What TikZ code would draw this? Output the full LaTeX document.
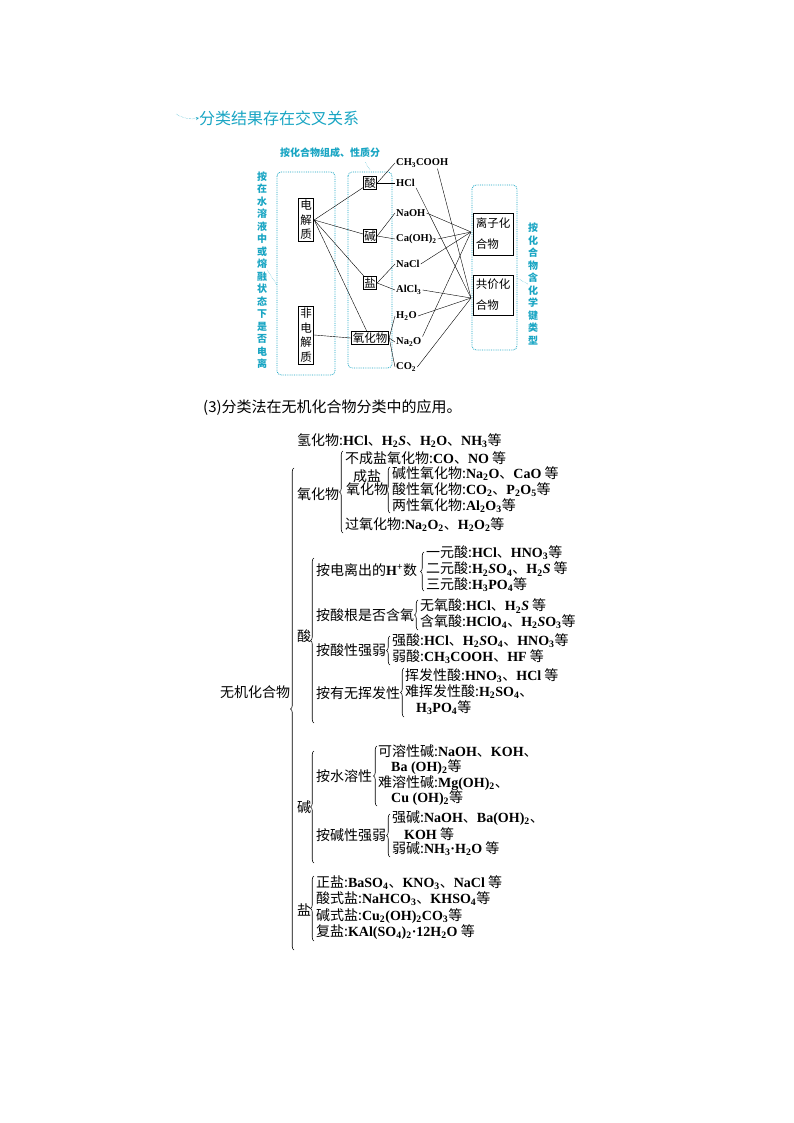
\documentclass[tikz,border=0pt]{standalone}
\usepackage{fontspec}
\setmainfont{Liberation Serif}
\newfontfamily\cjk{Noto Sans CJK SC}
\newfontfamily\lsb{Liberation Serif}[BoldFont={Liberation Serif Bold}]
\usetikzlibrary{decorations.pathreplacing}
\definecolor{tc}{RGB}{25,165,195}
\newcommand{\F}[1]{{\lsb\bfseries #1}}
\newcommand{\su}[1]{\textsubscript{#1}}
\begin{document}
\begin{tikzpicture}[x=1pt,y=-1pt,
  t/.style={anchor=west,inner sep=0pt,font=\cjk\fontsize{14}{15}\selectfont},
  c/.style={anchor=west,inner sep=1pt,font=\lsb\bfseries\fontsize{10.5}{12}\selectfont},
  bx/.style={draw,thick,inner sep=2pt,font=\cjk\fontsize{11.5}{13}\selectfont},
  dbox/.style={draw=tc,densely dotted,rounded corners=4pt,thick},
  tl/.style={inner sep=0pt,text=tc,font=\cjk\bfseries\fontsize{10}{12.5}\selectfont,align=center},
  br/.style={decorate,decoration={brace,amplitude=3.5pt},semithick},
  ln/.style={thin}]
\useasboundingbox (0,0) rectangle (794,1123);
% title
\node[t,text=tc,font=\cjk\fontsize{16}{17}\selectfont] (title) at (199,118) {分类结果存在交叉关系};
\coordinate (ta) at (176,114);
\draw[tc,densely dotted,->,>=stealth] (ta) to[bend right=20] (title.west);
\node[tl] (tlab) at (330,153) {按化合物组成、性质分};
\coordinate (tla) at (370,170);
\draw[tc,densely dotted] (tla) -- ++(-5,-8);
% dotted boxes
\draw[dbox] (277,172) rectangle (335,375);
\draw[dbox] (348,172) rectangle (392,368);
\draw[dbox] (472,185) rectangle (517,350);
\node[tl] (lv) at (262,270) {按\\在\\水\\溶\\液\\中\\或\\熔\\融\\状\\态\\下\\是\\否\\电\\离};
\node[tl] (rv) at (533,284) {按\\化\\合\\物\\含\\化\\学\\键\\类\\型};
\draw[tc,densely dotted] (lv.east) -- (277,285);
\draw[tc,densely dotted] (rv.west) -- (517,278);
% nodes
\node[bx,align=center,font=\cjk\fontsize{11.5}{14.5}\selectfont] (dj) at (306,220) {电\\解\\质};
\node[bx,align=center,font=\cjk\fontsize{11.5}{14.5}\selectfont] (fdj) at (306,335) {非\\电\\解\\质};
\node[bx,inner sep=1pt] (suan) at (370,183) {酸};
\node[bx,inner sep=1pt] (jian) at (370,236) {碱};
\node[bx,inner sep=1pt] (yan) at (370,283) {盐};
\node[bx,inner sep=1.5pt] (yhw) at (370,338) {氧化物};
\node[c] (ch) at (395,163) {CH\su{3}COOH};
\node[c] (hcl) at (395,183) {HCl};
\node[c] (naoh) at (395,213) {NaOH};
\node[c] (caoh) at (395,239) {Ca(OH)\su{2}};
\node[c] (nacl) at (395,264) {NaCl};
\node[c] (alcl) at (395,290) {AlCl\su{3}};
\node[c] (h2o) at (395,316) {H\su{2}O};
\node[c] (na2o) at (395,342) {Na\su{2}O};
\node[c] (co2) at (395,367) {CO\su{2}};
\node[bx,align=left,font=\cjk\fontsize{11.5}{21}\selectfont,minimum width=40pt,minimum height=42pt] (lz) at (493,234) {离子化\\合物};
\node[bx,align=left,font=\cjk\fontsize{11.5}{21}\selectfont,minimum width=40pt,minimum height=40pt] (gj) at (493,295) {共价化\\合物};
\coordinate (lzp) at (471,232);
\coordinate (gjp) at (471,298);
\foreach \n in {suan,jian,yan,yhw} \draw[ln] (dj.east) -- (\n);
\draw[ln] (fdj.east) -- (yhw.west);
\draw[ln] (suan.east) -- (ch.west); \draw[ln] (suan.east) -- (hcl.west);
\draw[ln] (jian.east) -- (naoh.west); \draw[ln] (jian.east) -- (caoh.west);
\draw[ln] (yan.east) -- (nacl.west); \draw[ln] (yan.east) -- (alcl.west);
\draw[ln] (yhw.east) -- (h2o.west); \draw[ln] (yhw.east) -- (na2o.west); \draw[ln] (yhw.east) -- (co2.west);
\draw[ln] (naoh.east) -- (lzp); \draw[ln] (caoh.east) -- (lzp); \draw[ln] (nacl.east) -- (lzp); \draw[ln] (na2o.north east) -- (lzp);
\draw[ln] (ch.south east) ++(-12,0) -- (gjp); \draw[ln] (hcl.south east) -- (gjp); \draw[ln] (alcl.east) -- (gjp); \draw[ln] (h2o.east) -- (gjp); \draw[ln] (co2.east) -- (gjp);
% section
\node[t,font=\cjk\fontsize{15}{16}\selectfont] (sec) at (203,408) {(3)分类法在无机化合物分类中的应用。};
% tree
\node[t] (wj) at (220,692) {无机化合物};
\draw[br] (294,950) -- (294,468);
\node[t] (qh) at (297,441) {氢化物:\F{HCl}、\F{H\su{2}\textit{S}}、\F{H\su{2}O}、\F{NH\su{3}}等};
\node[t] (yh) at (297,494) {氧化物};
\draw[br] (343,533) -- (343,451);
\node[t] (bc) at (345,458) {不成盐氧化物:\F{CO}、\F{NO} 等};
\node[t,align=center,font=\cjk\fontsize{14}{13}\selectfont,anchor=center] (cy) at (367,483) {成盐\\氧化物};
\draw[br] (390,513) -- (390,467);
\node[t] (j1) at (392,474) {碱性氧化物:\F{Na\su{2}O}、\F{CaO} 等};
\node[t] (j2) at (392,490) {酸性氧化物:\F{CO\su{2}}、\F{P\su{2}O\su{5}}等};
\node[t] (j3) at (392,506) {两性氧化物:\F{Al\su{2}O\su{3}}等};
\node[t] (gy) at (345,525) {过氧化物:\F{Na\su{2}O\su{2}}、\F{H\su{2}O\su{2}}等};
% acid
\node[t] (sa) at (297,636) {酸};
\draw[br] (314,723) -- (314,558);
\node[t] (a1) at (316,570) {按电离出的\F{H}\textsuperscript{+}数};
\draw[br] (424,591) -- (424,552);
\node[t] (a11) at (426,553) {一元酸:\F{HCl}、\F{HNO\su{3}}等};
\node[t] (a12) at (426,569) {二元酸:\F{H\su{2}\textit{S}O\su{4}}、\F{H\su{2}\textit{S}} 等};
\node[t] (a13) at (426,585) {三元酸:\F{H\su{3}PO\su{4}}等};
\node[t] (a2) at (316,615) {按酸根是否含氧};
\draw[br] (418,630) -- (418,600);
\node[t] (a21) at (420,606) {无氧酸:\F{HCl}、\F{H\su{2}\textit{S}} 等};
\node[t] (a22) at (420,622) {含氧酸:\F{HClO\su{4}}、\F{H\su{2}\textit{S}O\su{3}}等};
\node[t] (a3) at (316,650) {按酸性强弱};
\draw[br] (390,665) -- (390,636);
\node[t] (a31) at (392,641) {强酸:\F{HCl}、\F{H\su{2}\textit{S}O\su{4}}、\F{HNO\su{3}}等};
\node[t] (a32) at (392,657) {弱酸:\F{CH\su{3}COOH}、\F{HF} 等};
\node[t] (a4) at (316,693) {按有无挥发性};
\draw[br] (404,717) -- (404,668);
\node[t] (a41) at (405,676) {挥发性酸:\F{HNO\su{3}}、\F{HCl} 等};
\node[t] (a42) at (405,692) {难挥发性酸:\F{H\su{2}SO\su{4}}、};
\node[t] (a43) at (416,708) {\F{H\su{3}PO\su{4}}等};
% base
\node[t] (jn) at (297,807) {碱};
\draw[br] (314,863) -- (314,751);
\node[t] (b1) at (316,776) {按水溶性};
\draw[br] (377,806) -- (377,746);
\node[t] (b11) at (378,751) {可溶性碱:\F{NaOH}、\F{KOH}、};
\node[t] (b12) at (391,767) {\F{Ba (OH)\su{2}}等};
\node[t] (b13) at (378,783) {难溶性碱:\F{Mg(OH)\su{2}}、};
\node[t] (b14) at (391,798) {\F{Cu (OH)\su{2}}等};
\node[t] (b2) at (316,835) {按碱性强弱};
\draw[br] (390,857) -- (390,814);
\node[t] (b21) at (392,818) {强碱:\F{NaOH}、\F{Ba(OH)\su{2}}、};
\node[t] (b22) at (404,834) {\F{KOH} 等};
\node[t] (b23) at (392,849) {弱碱:\F{NH\su{3}·H\su{2}O} 等};
% salt
\node[t] (yn) at (297,910) {盐};
\draw[br] (314,941) -- (314,876);
\node[t] (s1) at (316,883) {正盐:\F{BaSO\su{4}}、\F{KNO\su{3}}、\F{NaCl} 等};
\node[t] (s2) at (316,899) {酸式盐:\F{NaHCO\su{3}}、\F{KHSO\su{4}}等};
\node[t] (s3) at (316,916) {碱式盐:\F{Cu\su{2}(OH)\su{2}CO\su{3}}等};
\node[t] (s4) at (316,932) {复盐:\F{KAl(SO\su{4})\su{2}·12H\su{2}O} 等};
\end{tikzpicture}
\end{document}
